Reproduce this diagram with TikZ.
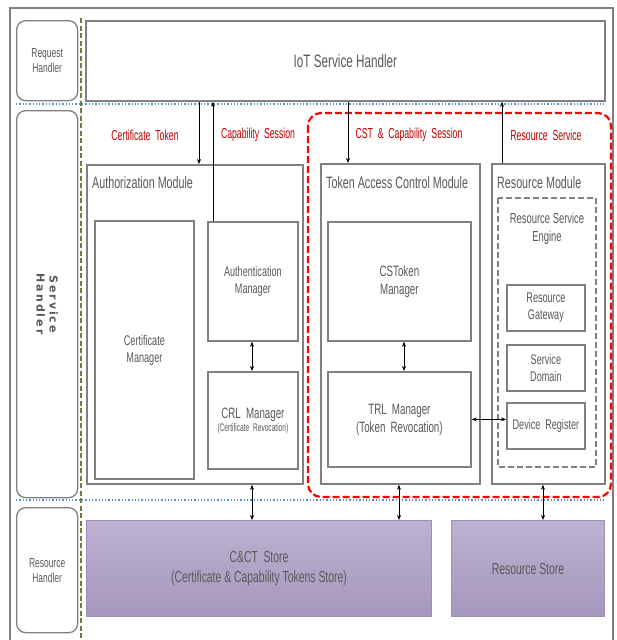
\documentclass[tikz,border=0pt]{standalone}
\usepackage{fontspec}
\setmainfont{Liberation Sans}[FakeStretch=0.65]
\newfontfamily\redfont{Liberation Sans}[FakeStretch=0.6]
\newfontfamily\widefont{DejaVu Sans}[LetterSpace=18]
\usetikzlibrary{arrows.meta,calc}
\definecolor{bord}{HTML}{808080}
\definecolor{txt}{HTML}{595959}
\definecolor{lbl}{HTML}{C00000}
\definecolor{reddash}{HTML}{FF0000}
\definecolor{bluedot}{HTML}{5B8FCF}
\definecolor{olive}{HTML}{6E7F3C}
\definecolor{ptop}{HTML}{BCB2D0}
\definecolor{pbot}{HTML}{A597BD}
\definecolor{pbord}{HTML}{9D8DB9}
\begin{document}
\begin{tikzpicture}[x=1pt,y=-1pt,
  box/.style={draw=bord, line width=1.8pt, fill=white, text=txt, align=center,
    inner sep=0pt, anchor=north west},
  sidebox/.style={draw=bord, line width=1.3pt, rounded corners=9pt, text=txt,
    align=center, inner sep=0pt, anchor=north west,
    font=\fontsize{13}{15}\selectfont},
  store/.style={draw=pbord, line width=1pt, top color=ptop, bottom color=pbot,
    text=txt, align=center, inner sep=0pt, anchor=north west,
    font=\fontsize{16}{20}\selectfont},
  inner/.style={font=\fontsize{14}{17}\selectfont},
  title/.style={text=txt, anchor=west, inner sep=0pt, font=\fontsize{16.5}{19}\selectfont},
  redlbl/.style={text=lbl, inner sep=0pt, font=\redfont\fontsize{14.5}{16}\selectfont},
  arr/.style={-{Stealth[length=5pt,width=4pt]}, line width=0.6pt, black},
  darr/.style={{Stealth[length=5pt,width=4pt]}-{Stealth[length=5pt,width=4pt]}, line width=0.6pt, black}
]
\useasboundingbox (0,0) rectangle (616,640);
\fill[white] (0,0) rectangle (616,640);
% outer frame
\draw[bord, line width=2pt] (10,660) -- (10,8) -- (613,8) -- (613,660);
% separators
\draw[olive, dashed, dash pattern=on 5pt off 2.5pt, line width=1.1pt] (81,18) -- (81,640);
\draw[bluedot, dotted, line width=1.3pt] (16,104) -- (604,104);
\draw[bluedot, dotted, line width=1.3pt] (16,500) -- (604,500);

% left side labels
\node[sidebox, minimum width=61pt, minimum height=80pt] (reqh) at (16,20) {Request\\Handler};
\node[sidebox, minimum width=61pt, minimum height=387pt] (servh) at (16,110) {};
\node[text=txt, rotate=-90, align=center, inner sep=0pt,
  font=\widefont\bfseries\fontsize{11}{13}\selectfont] (servhtxt) at (servh.center) {Service\\Handler};
\node[sidebox, minimum width=61pt, minimum height=125pt] (resh) at (16,507) {Resource\\Handler};

% IoT service handler
\node[box, minimum width=519pt, minimum height=80pt, font=\fontsize{18}{20}\selectfont] (iot) at (85,20) {IoT Service Handler};

% red dashed region
\draw[reddash, dashed, dash pattern=on 7pt off 3pt, line width=2.2pt, rounded corners=13pt] (308,113) rectangle (611,497);

% red labels
\node[redlbl] (lct) at (145,135) {Certificate\, Token};
\node[redlbl] (lcs) at (258,135) {Capability\, Session};
\node[redlbl] (lcst) at (409,135) {CST\, \&\, Capability\, Session};
\node[redlbl] (lrs) at (546,135) {Resource\, Service};

% authorization module
\node[box, minimum width=216pt, minimum height=319pt] (authmod) at (86,164) {};
\node[title] (authmodt) at (92,183) {Authorization Module};
\node[box, inner, minimum width=99pt, minimum height=258pt] (certmgr) at (94,220) {Certificate\\Manager};
\node[box, inner, minimum width=90pt, minimum height=119pt] (authn) at (207,221) {Authentication\\Manager};
\node[box, minimum width=90pt, minimum height=97pt] (crl) at (207,371)
  {{\fontsize{15}{18}\selectfont CRL\, Manager}\\[1pt]{\redfont\fontsize{11}{13}\selectfont (Certificate\, Revocation)}};

% token access control module
\node[box, minimum width=159pt, minimum height=320pt] (tacm) at (320,163) {};
\node[title] (tacmt) at (326,183) {Token Access Control Module};
\node[box, minimum width=143pt, minimum height=119pt, font=\fontsize{15}{18}\selectfont] (cst) at (327,221) {CSToken\\Manager};
\node[box, minimum width=143pt, minimum height=95pt, font=\fontsize{15}{18}\selectfont] (trl) at (327,371) {TRL\, Manager\\(Token\, Revocation)};

% resource module
\node[box, minimum width=113pt, minimum height=320pt] (resmod) at (491,163) {};
\node[title] (resmodt) at (497,183) {Resource Module};
\draw[bord, dashed, dash pattern=on 6pt off 3pt, line width=1.3pt] (498,198) rectangle (596,467);
\node[text=txt, align=center, inner sep=0pt, font=\fontsize{14.5}{18}\selectfont] (rsetxt) at (547,229) {Resource Service\\Engine};
\node[box, inner, minimum width=78pt, minimum height=46pt] (rgw) at (506,284) {Resource\\Gateway};
\node[box, inner, minimum width=78pt, minimum height=46pt] (sdom) at (506,344) {Service\\Domain};
\node[box, inner, minimum width=78pt, minimum height=46pt] (devreg) at (506,402) {Device\, Register};

% stores
\node[store, minimum width=345pt, minimum height=96pt] (cct) at (86,520) {C\&CT\, Store\\(Certificate \& Capability Tokens Store)};
\node[store, minimum width=153pt, minimum height=96pt] (rstore) at (451,520) {Resource Store};

% x positions
\coordinate (x199) at (199,0);
\coordinate (x213) at (213,0);
\coordinate (x348) at (348,0);
\coordinate (x502) at (502,0);
\coordinate (x252) at (252,0);
\coordinate (x404) at (404,0);
\coordinate (x399) at (399,0);
\coordinate (x543) at (543,0);

% connectors
\draw[arr] (iot.south -| x199) -- (authmod.north -| x199);
\draw[arr] (authn.north -| x213) -- (iot.south -| x213);
\draw[arr] (iot.south -| x348) -- (tacm.north -| x348);
\draw[arr] (resmod.north -| x502) -- (iot.south -| x502);
\draw[darr] (authn.south -| x252) -- (crl.north -| x252);
\draw[darr] (cst.south -| x404) -- (trl.north -| x404);
\draw[darr] (trl.east) -- (trl.east -| devreg.west);
\draw[darr] (authmod.south -| x252) -- (cct.north -| x252);
\draw[darr] (tacm.south -| x399) -- (cct.north -| x399);
\draw[darr] (resmod.south -| x543) -- (rstore.north -| x543);
\end{tikzpicture}
\end{document}
